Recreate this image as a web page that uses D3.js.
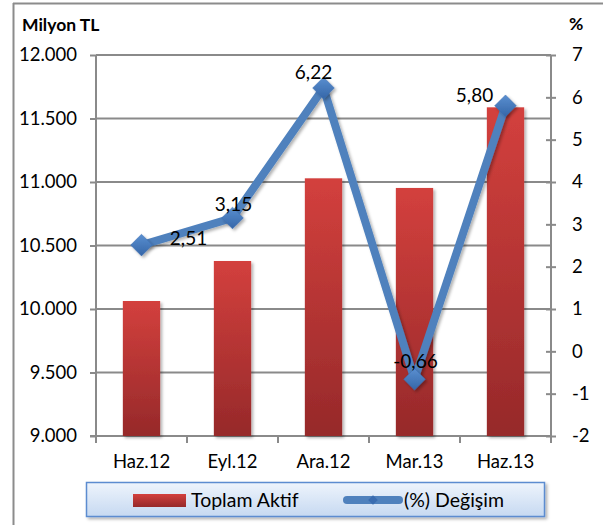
<!DOCTYPE html>
<html>
<head>
<meta charset="utf-8">
<script src="https://d3js.org/d3.v7.min.js"></script>
<style>
body{margin:0;background:#fff;}
text{font-family:Lato,"Open Sans",sans-serif;fill:#000;}
</style>
</head>
<body>
<svg id="chart" width="603" height="525"></svg>
<script>
// values
var donemler = ["Haz.12","Eyl.12","Ara.12","Mar.13","Haz.13"];
var toplamAktif = [10063,10378,11029,10953,11588];
var degisim = [2.51,3.15,6.22,-0.66,5.80];
var solTikler = [9000,9500,10000,10500,11000,11500,12000];
var sagTikler = [-2,-1,0,1,2,3,4,5,6,7];
var etiketler = ["2,51","3,15","6,22","-0,66","5,80"];

var svg = d3.select("#chart");
var L = 96, R = 551, T = 55, B = 436;

var defs = svg.append("defs");
var bg = defs.append("linearGradient").attr("id","barG").attr("x1",0).attr("y1",0).attr("x2",0).attr("y2",1);
bg.append("stop").attr("offset","0%").attr("stop-color","#d3403d");
bg.append("stop").attr("offset","100%").attr("stop-color","#96292a");
var mg = defs.append("linearGradient").attr("id","mkG").attr("x1",0).attr("y1",0).attr("x2",0).attr("y2",1);
mg.append("stop").attr("offset","0%").attr("stop-color","#5a8fd0");
mg.append("stop").attr("offset","100%").attr("stop-color","#3566a8");
var lg = defs.append("linearGradient").attr("id","legG").attr("x1",0).attr("y1",0).attr("x2",0).attr("y2",1);
lg.append("stop").attr("offset","0%").attr("stop-color","#eef4fc");
lg.append("stop").attr("offset","100%").attr("stop-color","#c6d9f1");
var sh = defs.append("filter").attr("id","shd").attr("x","-20%").attr("y","-20%").attr("width","150%").attr("height","150%");
sh.append("feDropShadow").attr("dx",2).attr("dy",2).attr("stdDeviation",1.5).attr("flood-color","#000").attr("flood-opacity",0.3);

// frame
svg.append("line").attr("x1",13).attr("x2",603).attr("y1",3.5).attr("y2",3.5).attr("stroke","#8c8c8c").attr("stroke-width",2);
svg.append("line").attr("x1",13.5).attr("x2",13.5).attr("y1",3).attr("y2",525).attr("stroke","#8c8c8c").attr("stroke-width",2);

var x = d3.scaleBand().domain(donemler).range([L,R]);
var yL = d3.scaleLinear().domain([9000,12000]).range([B,T]);
var yR = d3.scaleLinear().domain([-2,7]).range([B,T]);

// gridlines
svg.append("g").selectAll("line").data(solTikler).join("line")
  .attr("x1",L).attr("x2",R).attr("y1",d=>yL(d)).attr("y2",d=>yL(d))
  .attr("stroke","#8a8a8a").attr("stroke-width",2);

// left axis
var gl = svg.append("g").attr("transform","translate("+L+",0)")
  .call(d3.axisLeft(yL).tickValues(solTikler).tickSize(6).tickPadding(13)
    .tickFormat(d=>d3.format(",")(d).replace(",",".")));
gl.select(".domain").attr("stroke","#8a8a8a").attr("stroke-width",2).attr("d","M0,"+T+"V"+(B+7));
gl.selectAll(".tick line").attr("stroke","#8a8a8a").attr("stroke-width",2);
gl.selectAll(".tick text").style("font-size","18.5px").attr("fill","#000");

// right axis
var gr = svg.append("g").attr("transform","translate("+R+",0)")
  .call(d3.axisRight(yR).tickValues(sagTikler).tickSize(5).tickPadding(16).tickFormat(d=>String(d)));
gr.select(".domain").attr("stroke","#8a8a8a").attr("stroke-width",2).attr("d","M0,"+T+"V"+(B+5));
gr.selectAll(".tick line").attr("stroke","#8a8a8a").attr("stroke-width",2).attr("x1",-5);
gr.selectAll(".tick text").style("font-size","18.5px").attr("fill","#000");

// bottom axis
var gb = svg.append("g").attr("transform","translate(0,"+B+")")
  .call(d3.axisBottom(x).tickSize(0).tickPadding(19));
gb.select(".domain").remove();
gb.selectAll(".tick text").style("font-size","18.5px").attr("fill","#000");
var kenar = donemler.map(d=>x(d)).concat([R]);
svg.append("g").selectAll("line").data(kenar.slice(1)).join("line")
  .attr("x1",d=>d).attr("x2",d=>d).attr("y1",B).attr("y2",B+7)
  .attr("stroke","#8a8a8a").attr("stroke-width",2);
svg.append("line").attr("x1",L-6).attr("x2",R).attr("y1",B).attr("y2",B).attr("stroke","#8a8a8a").attr("stroke-width",2);

// bars
var bw = x.bandwidth()*0.41;
svg.append("g").selectAll("rect").data(toplamAktif).join("rect")
  .attr("x",(d,i)=>x(donemler[i])+x.bandwidth()/2-bw/2)
  .attr("width",bw)
  .attr("y",d=>yL(d)).attr("height",d=>B-yL(d))
  .attr("fill","url(#barG)").attr("filter","url(#shd)");

// line
var cx = (d,i)=>x(donemler[i])+x.bandwidth()/2;
var cizgi = d3.line().x(cx).y(d=>yR(d));
svg.append("path").datum(degisim).attr("d",cizgi)
  .attr("fill","none").attr("stroke","#4f81bd").attr("stroke-width",8).attr("stroke-linejoin","round")
  .attr("filter","url(#shd)");
var diamond = d3.symbol().type(d3.symbolDiamond2).size(300);
svg.append("g").selectAll("path").data(degisim).join("path")
  .attr("d",diamond)
  .attr("transform",(d,i)=>"translate("+cx(d,i)+","+yR(d)+")")
  .attr("fill","url(#mkG)").attr("stroke","#3a6cb0").attr("stroke-width",0.5).attr("filter","url(#shd)");

// data labels
var off = [[47,6],[1,-1],[-10,-3],[1,-5],[-31,2]];
svg.append("g").selectAll("text").data(degisim).join("text")
  .attr("x",(d,i)=>cx(d,i)+off[i][0])
  .attr("y",(d,i)=>yR(d)+off[i][1]-6)
  .attr("text-anchor","middle").style("font-size","19px")
  .text((d,i)=>etiketler[i]);

// axis titles
svg.append("text").attr("x",22).attr("y",31).style("font-size","17.5px").style("font-weight","bold").text("Milyon TL");
svg.append("text").attr("x",569).attr("y",30).style("font-size","17.5px").style("font-weight","bold").text("%");

// legend
var leg = svg.append("g");
leg.append("rect").attr("x",86.5).attr("y",482.5).attr("width",458).attr("height",34)
  .attr("fill","url(#legG)").attr("stroke","#5b8cd0").attr("stroke-width",1.5).attr("filter","url(#shd)");
leg.append("rect").attr("x",133).attr("y",494).attr("width",53).attr("height",13).attr("fill","url(#barG)");
leg.append("text").attr("x",191).attr("y",507).style("font-size","19.5px").text("Toplam Aktif");
leg.append("line").attr("x1",347).attr("x2",399).attr("y1",500).attr("y2",500)
  .attr("stroke","#4f81bd").attr("stroke-width",8).attr("stroke-linecap","round");
leg.append("path").attr("d",d3.symbol().type(d3.symbolDiamond2).size(60))
  .attr("transform","translate(373,500)").attr("fill","#3a6cb0");
leg.append("text").attr("x",404).attr("y",507).style("font-size","19.5px").text("(%) Değişim");
</script>
</body>
</html>
